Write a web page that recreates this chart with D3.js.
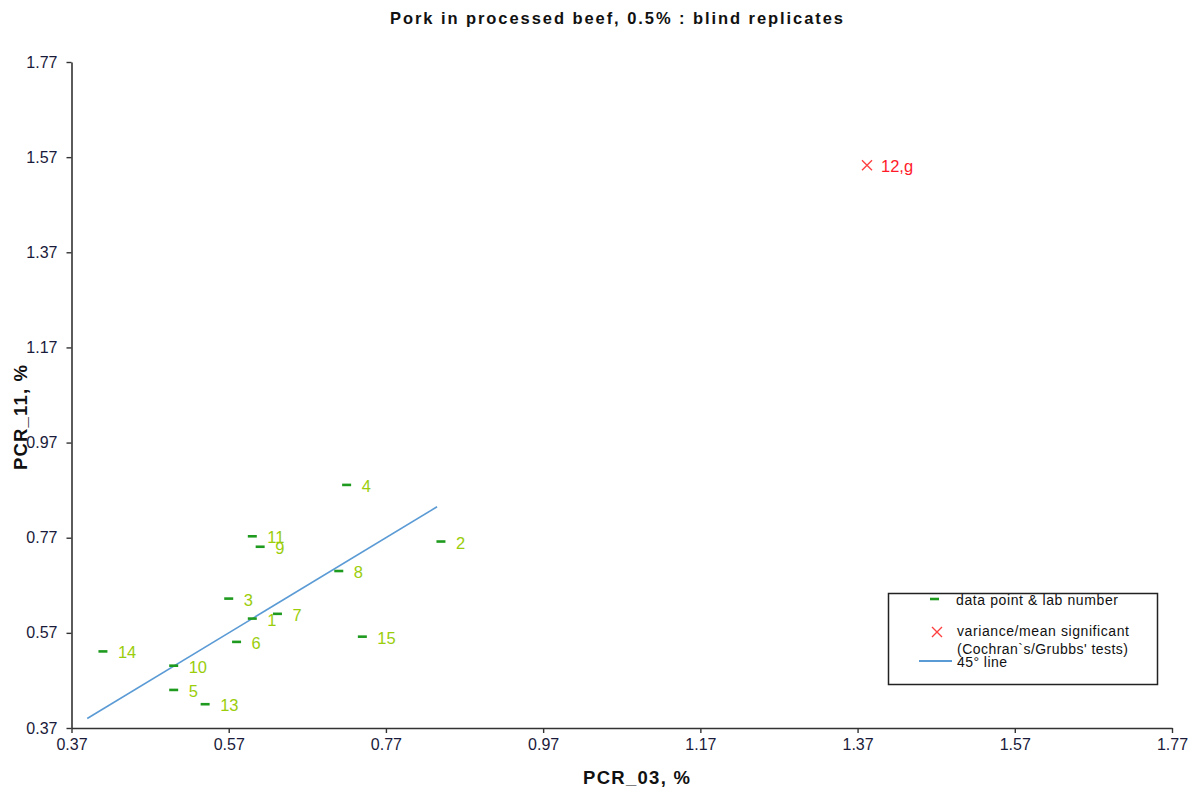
<!DOCTYPE html>
<html>
<head>
<meta charset="utf-8">
<script src="https://cdn.jsdelivr.net/npm/d3@7"></script>
<style>
  html, body { margin: 0; padding: 0; background: #fff; }
  svg text { font-family: "Liberation Sans", Arial, sans-serif; }
</style>
</head>
<body>
<svg id="chart" width="1197" height="792"></svg>
<script>
// ---- data ----
const labs    = ["1","2","3","4","5","6","7","8","9","10","11","13","14","15"];
const pcr03   = [0.60,0.84,0.57,0.72,0.50,0.58,0.632,0.71,0.61,0.50,0.60,0.54,0.41,0.74];
const pcr11   = [0.60,0.762,0.642,0.881,0.45,0.551,0.61,0.70,0.751,0.501,0.773,0.42,0.531,0.562];
const outlierLabs  = ["12,g"];
const outlierPcr03 = [1.382];
const outlierPcr11 = [1.553];
const lineRange    = [0.39, 0.835];
const tickValues   = [0.37,0.57,0.77,0.97,1.17,1.37,1.57,1.77];

const svg = d3.select("#chart");
const font = '"Liberation Sans", Arial, sans-serif';

const x = d3.scaleLinear().domain([0.37, 1.77]).range([71.5, 1172]);
const y = d3.scaleLinear().domain([0.37, 1.77]).range([728, 62]);

// title
svg.append("text").attr("x", 390).attr("y", 24)
  .attr("font-size", 16.5).attr("font-weight", "bold").attr("fill", "#111")
  .attr("textLength", 453).attr("lengthAdjust", "spacing")
  .text("Pork in processed beef, 0.5% : blind replicates");

// axes
const xAxis = svg.append("g").attr("transform", `translate(0,${y(0.37)})`)
  .call(d3.axisBottom(x).tickValues(tickValues).tickFormat(d3.format(".2f")).tickSize(5).tickSizeOuter(0));
const yAxis = svg.append("g").attr("transform", `translate(${x(0.37)},0)`)
  .call(d3.axisLeft(y).tickValues(tickValues).tickFormat(d3.format(".2f")).tickSize(5).tickSizeOuter(0));
[xAxis, yAxis].forEach(a => {
  a.select(".domain").attr("stroke", "#333").attr("stroke-width", 1.6);
  a.selectAll(".tick line").attr("stroke", "#333").attr("stroke-width", 1.4);
  a.selectAll(".tick text").attr("font-size", 16).attr("font-family", font).attr("fill", "#1a1a3a");
});
xAxis.selectAll(".tick text").attr("y", 11);
yAxis.selectAll(".tick text").attr("x", -14);

// axis titles
svg.append("text").attr("x", 583).attr("y", 784)
  .attr("font-size", 18.5).attr("font-weight", "bold").attr("fill", "#111")
  .attr("textLength", 107).attr("lengthAdjust", "spacing").text("PCR_03, %");
svg.append("text").attr("transform", "translate(27,470) rotate(-90)")
  .attr("font-size", 18.5).attr("font-weight", "bold").attr("fill", "#111")
  .attr("textLength", 105).attr("lengthAdjust", "spacing").text("PCR_11, %");

// 45 degree line
svg.append("line")
  .attr("x1", x(lineRange[0])).attr("y1", y(lineRange[0]))
  .attr("x2", x(lineRange[1])).attr("y2", y(lineRange[1]))
  .attr("stroke", "#5b9bd5").attr("stroke-width", 1.6);

// data points
const pts = labs.map((l, i) => ({lab: l, a: pcr03[i], b: pcr11[i]}));
const g = svg.append("g");
g.selectAll("line.pt").data(pts).join("line").attr("class", "pt")
  .attr("x1", d => x(d.a) - 4.5).attr("x2", d => x(d.a) + 4.5)
  .attr("y1", d => y(d.b)).attr("y2", d => y(d.b))
  .attr("stroke", "#1e9a1e").attr("stroke-width", 2.6);
g.selectAll("text.lab").data(pts).join("text").attr("class", "lab")
  .attr("x", d => x(d.a) + 15).attr("y", d => y(d.b) + 7)
  .attr("font-size", 16.5).attr("fill", "#9acd0a").text(d => d.lab);

// outliers
const outs = outlierLabs.map((l, i) => ({lab: l, a: outlierPcr03[i], b: outlierPcr11[i]}));
const og = svg.append("g");
outs.forEach(d => {
  const cx = x(d.a), cy = y(d.b), s = 5;
  og.append("path").attr("d", `M${cx-s},${cy-s}L${cx+s},${cy+s}M${cx-s},${cy+s}L${cx+s},${cy-s}`)
    .attr("stroke", "#ff4040").attr("stroke-width", 1.4).attr("fill", "none");
  og.append("text").attr("x", cx + 14).attr("y", cy + 7).attr("font-size", 16.5)
    .attr("fill", "#ff1a2a").text(d.lab);
});

// legend
const lg = svg.append("g");
lg.append("rect").attr("x", 888.5).attr("y", 593.5).attr("width", 269).attr("height", 91)
  .attr("fill", "#fff").attr("stroke", "#222").attr("stroke-width", 1.5);
lg.append("line").attr("x1", 930).attr("x2", 939).attr("y1", 599).attr("y2", 599)
  .attr("stroke", "#1e9a1e").attr("stroke-width", 2.6);
lg.append("text").attr("x", 956).attr("y", 605).attr("font-size", 14).attr("fill", "#111")
  .attr("textLength", 162).attr("lengthAdjust", "spacing").text("data point & lab number");
lg.append("path").attr("d", "M932,627L942,637M932,637L942,627")
  .attr("stroke", "#ff4040").attr("stroke-width", 1.4);
lg.append("text").attr("x", 957).attr("y", 636).attr("font-size", 14).attr("fill", "#111")
  .attr("textLength", 172).attr("lengthAdjust", "spacing").text("variance/mean significant");
lg.append("text").attr("x", 957).attr("y", 654).attr("font-size", 14).attr("fill", "#111")
  .attr("textLength", 171).attr("lengthAdjust", "spacing").text("(Cochran`s/Grubbs' tests)");
lg.append("line").attr("x1", 919).attr("x2", 952).attr("y1", 661).attr("y2", 661)
  .attr("stroke", "#5b9bd5").attr("stroke-width", 2);
lg.append("text").attr("x", 957).attr("y", 667).attr("font-size", 14).attr("fill", "#111")
  .attr("textLength", 50).attr("lengthAdjust", "spacing").text("45° line");
</script>
</body>
</html>
